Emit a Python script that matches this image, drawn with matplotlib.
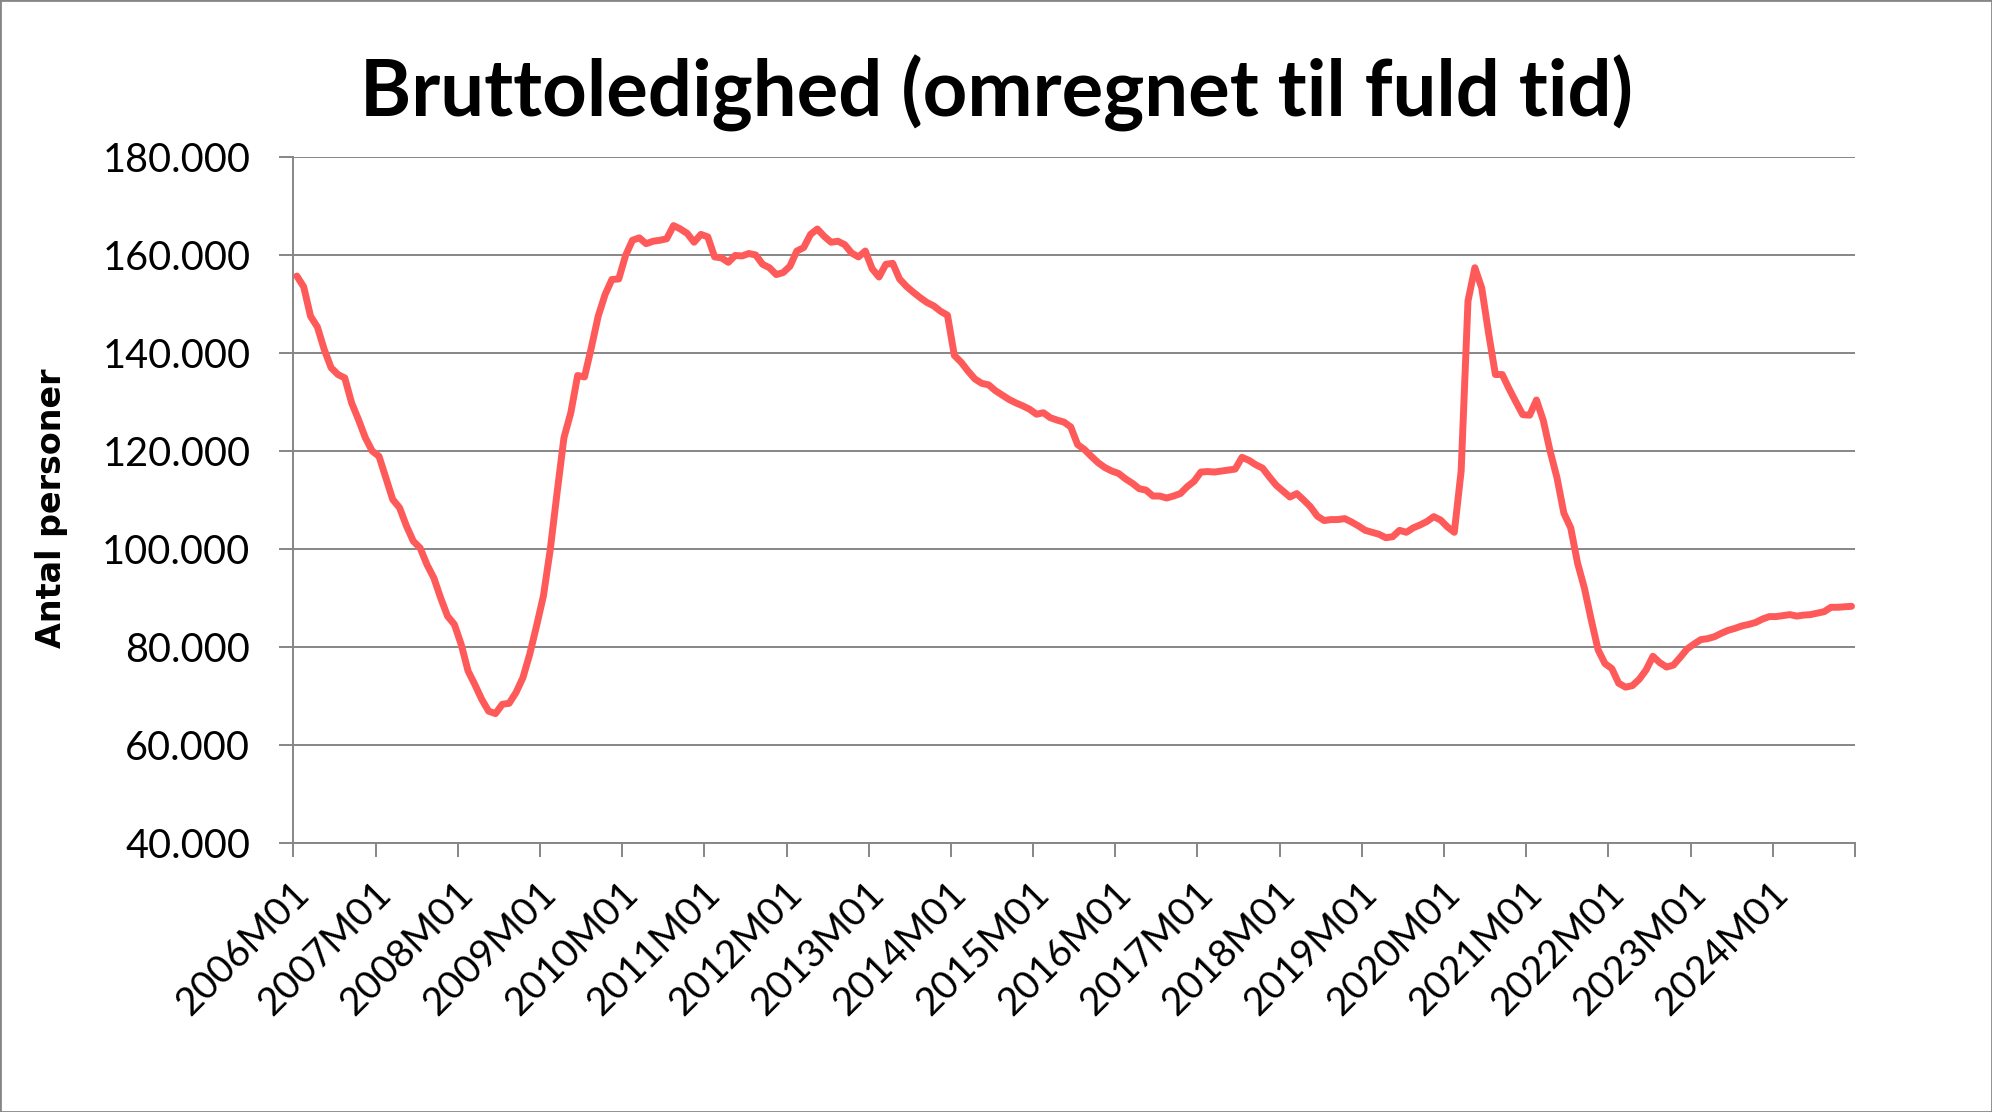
import matplotlib
matplotlib.use("Agg")
import matplotlib.pyplot as plt
import matplotlib.ticker as mticker
import matplotlib.transforms as mtransforms
from matplotlib.patches import Rectangle
import numpy as np

# Bruttoledighed, 1000 personer, maanedlig 2006M01 - 2024M12
years = list(range(2006, 2025))
ledige_2006 = [155.8, 153.6, 147.6, 145.4, 140.8, 137.1, 135.7, 135.0, 129.9, 126.5, 122.8, 120.1]
ledige_2007 = [119.0, 114.6, 110.2, 108.5, 104.8, 101.7, 100.3, 96.9, 94.2, 90.1, 86.4, 84.7]
ledige_2008 = [80.6, 75.2, 72.4, 69.4, 67.0, 66.5, 68.4, 68.6, 70.8, 73.8, 78.6, 84.4]
ledige_2009 = [90.5, 100.0, 111.6, 122.8, 127.9, 135.5, 135.2, 141.2, 147.6, 152.0, 155.1, 155.2]
ledige_2010 = [160.0, 163.1, 163.6, 162.4, 162.9, 163.1, 163.4, 166.1, 165.4, 164.5, 162.7, 164.3]
ledige_2011 = [163.8, 159.7, 159.5, 158.6, 160.0, 159.9, 160.4, 160.1, 158.2, 157.5, 156.1, 156.5]
ledige_2012 = [157.8, 160.9, 161.6, 164.3, 165.4, 163.9, 162.7, 162.9, 162.2, 160.5, 159.7, 160.9]
ledige_2013 = [157.3, 155.6, 158.2, 158.4, 155.2, 153.7, 152.5, 151.4, 150.4, 149.7, 148.6, 147.8]
ledige_2014 = [139.6, 138.2, 136.4, 134.8, 133.9, 133.6, 132.4, 131.5, 130.6, 129.9, 129.3, 128.6]
ledige_2015 = [127.6, 127.9, 126.9, 126.4, 126.0, 125.0, 121.4, 120.4, 119.0, 117.7, 116.7, 116.0]
ledige_2016 = [115.5, 114.4, 113.5, 112.4, 112.1, 110.9, 110.9, 110.5, 110.9, 111.4, 112.8, 113.9]
ledige_2017 = [115.8, 115.9, 115.8, 116.0, 116.2, 116.4, 118.8, 118.2, 117.3, 116.6, 114.8, 113.1]
ledige_2018 = [111.9, 110.7, 111.4, 110.1, 108.7, 106.8, 105.9, 106.1, 106.1, 106.3, 105.6, 104.8]
ledige_2019 = [103.9, 103.5, 103.1, 102.4, 102.6, 103.9, 103.5, 104.4, 105.0, 105.7, 106.7, 106.0]
ledige_2020 = [104.6, 103.5, 116.0, 150.7, 157.5, 153.4, 144.2, 135.7, 135.7, 132.8, 130.1, 127.5]
ledige_2021 = [127.4, 130.5, 126.3, 120.0, 114.6, 107.4, 104.4, 97.2, 92.1, 85.6, 79.5, 76.7]
ledige_2022 = [75.7, 72.7, 71.9, 72.2, 73.5, 75.4, 78.2, 76.9, 76.0, 76.4, 78.0, 79.7]
ledige_2023 = [80.7, 81.6, 81.8, 82.2, 82.9, 83.5, 83.9, 84.4, 84.7, 85.1, 85.8, 86.3]
ledige_2024 = [86.3, 86.5, 86.7, 86.4, 86.6, 86.7, 87.0, 87.3, 88.2, 88.2, 88.3, 88.4]

ledige = (ledige_2006 + ledige_2007 + ledige_2008 + ledige_2009 + ledige_2010 + ledige_2011
          + ledige_2012 + ledige_2013 + ledige_2014 + ledige_2015 + ledige_2016 + ledige_2017
          + ledige_2018 + ledige_2019 + ledige_2020 + ledige_2021 + ledige_2022 + ledige_2023
          + ledige_2024)
periods = [f"{y}M{m:02d}" for y in years for m in range(1, 13)]
year_labels = [f"{y}M01" for y in years]

grey = "#868686"
red = "#FF5A5A"
font = "Lato"

fig = plt.figure(figsize=(19.92, 11.12), dpi=100)
ax = fig.add_axes([0.1473, 0.2415, 0.7839, 0.6169])

x = np.arange(len(ledige))
ax.plot(x, ledige, color=red, lw=5, solid_joinstyle="round", solid_capstyle="round", zorder=3)

ax.set_xlim(-0.5, len(ledige) - 0.5)
ax.set_ylim(40, 180)
ax.set_yticks(np.arange(40, 181, 20))
ax.yaxis.set_major_formatter(mticker.FuncFormatter(lambda v, p: f"{v * 1000:,.0f}".replace(",", ".")))
ax.grid(axis="y", color=grey, lw=1.4, zorder=0)

# ticks between categories, one label per year
xt = np.arange(0, len(ledige) + 1, 12) - 0.5
ax.set_xticks(xt)
ax.set_xticklabels(year_labels + [""])

for s in ["top", "right"]:
    ax.spines[s].set_visible(False)
for s in ["left", "bottom"]:
    ax.spines[s].set_color(grey)
    ax.spines[s].set_linewidth(1.4)

ax.tick_params(axis="both", colors=grey, width=1.4, length=10, direction="out")
ax.tick_params(axis="y", labelcolor="black", labelsize=28.5, pad=21)
ax.tick_params(axis="x", labelcolor="black", labelsize=28, pad=22)
offset = mtransforms.ScaledTranslation(10 / 100, 0, fig.dpi_scale_trans)
for lab in ax.get_xticklabels():
    lab.set_rotation(45)
    lab.set_ha("right")
    lab.set_va("center")
    lab.set_rotation_mode("anchor")
    lab.set_transform(lab.get_transform() + offset)
for lab in ax.get_xticklabels() + ax.get_yticklabels():
    lab.set_fontfamily(font)

fig.text(0.5, 1 - 117 / 1112, "Bruttoledighed (omregnet til fuld tid)", ha="center", va="baseline",
         fontsize=56, fontweight="bold", family=font)
fig.text(51 / 1992, 1 - 508 / 1112, "Antal personer", rotation=90, ha="center", va="center",
         fontsize=24, fontweight="bold", family="DejaVu Sans")

fig.patches.append(Rectangle((0, 0), 1, 1, transform=fig.transFigure, fill=False,
                             edgecolor=grey, lw=2))

fig.savefig("out.png", dpi=100)
